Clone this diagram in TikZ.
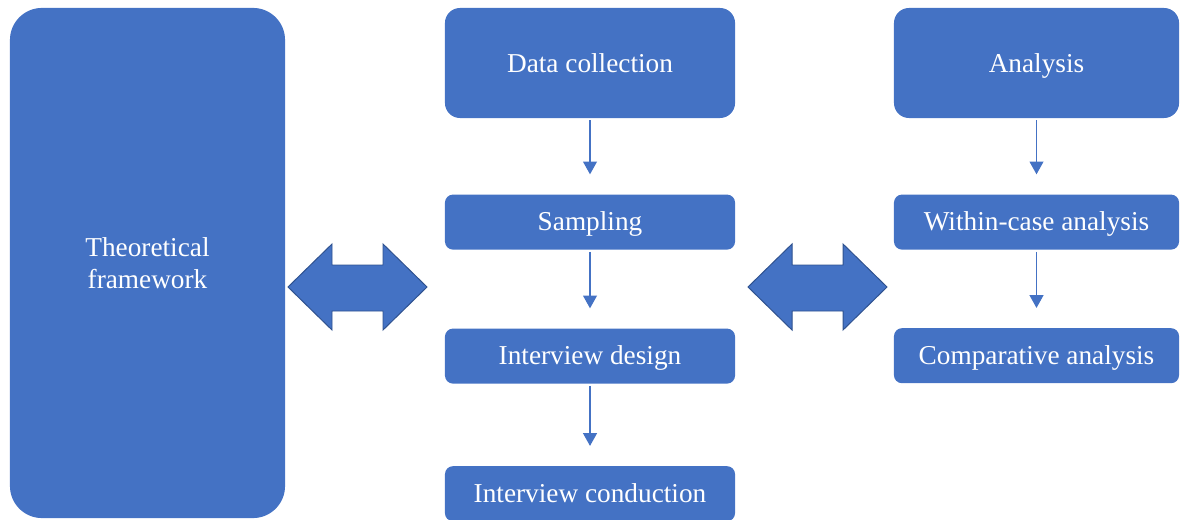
\documentclass[tikz,border=0pt]{standalone}
\usepackage{fontspec}
\setmainfont{Liberation Serif}
\usepackage{xcolor}
\usetikzlibrary{arrows.meta, positioning}

\definecolor{boxblue}{HTML}{4472C4}
\definecolor{edgeblue}{HTML}{2F528F}

\begin{document}
\begin{tikzpicture}[
  x=0.025cm, y=-0.025cm,
  bigbox/.style={rectangle, rounded corners=0.8cm, fill=boxblue,
                 minimum width=6.875cm, minimum height=12.75cm,
                 inner sep=0pt, text=white, align=center,
                 font=\fontsize{19.4}{22.8}\selectfont},
  headbox/.style={rectangle, rounded corners=0.375cm, fill=boxblue,
                  minimum width=7.25cm, minimum height=2.75cm,
                  inner sep=0pt, text=white,
                  text height=15.5pt, text depth=2pt,
                  font=\fontsize{19.4}{22.8}\selectfont},
  stepbox/.style={rectangle, rounded corners=0.2cm, fill=boxblue,
                  minimum width=7.25cm, minimum height=1.375cm,
                  inner sep=0pt, text=white,
                  text height=15pt, text depth=3pt,
                  font=\fontsize{19.4}{22.8}\selectfont},
  flowarr/.style={-{Triangle[length=0.32cm,width=0.35cm]}, draw=boxblue,
                  line width=0.8pt, shorten <=0.05cm, shorten >=0.5cm},
  dblarr/.style={fill=boxblue, draw=edgeblue, line width=0.7pt, line join=miter}
]
  \useasboundingbox (0,0) rectangle (1181,519);

  \node[bigbox] (theo) at (147.5,263) {Theoretical\\framework};

  \node[headbox] (dc) at (590,63) {Data collection};
  \node[stepbox, below=1.9cm of dc]     (samp)   {Sampling};
  \node[stepbox, below=1.96cm of samp]  (design) {Interview design};
  \node[stepbox, below=2.05cm of design] (cond) {Interview conduction};

  \node[headbox, minimum width=7.125cm] (an) at (1036.5,63) {Analysis};
  \node[stepbox, minimum width=7.125cm, below=1.9cm of an]     (within) {Within-case analysis};
  \node[stepbox, minimum width=7.125cm, below=1.95cm of within] (comp)  {Comparative analysis};

  \draw[flowarr] (dc)     -- (samp);
  \draw[flowarr] (samp)   -- (design);
  \draw[flowarr] (design) -- (cond);
  \draw[flowarr] (an)     -- (within);
  \draw[flowarr] (within) -- (comp);

  % two-way arrows between the columns
  \foreach \x in {288,748}
    \draw[dblarr] (\x,287) -- (\x+44,244) -- (\x+44,265) -- (\x+95,265)
      -- (\x+95,244) -- (\x+139,287) -- (\x+95,330) -- (\x+95,311)
      -- (\x+44,311) -- (\x+44,330) -- cycle;
\end{tikzpicture}
\end{document}
